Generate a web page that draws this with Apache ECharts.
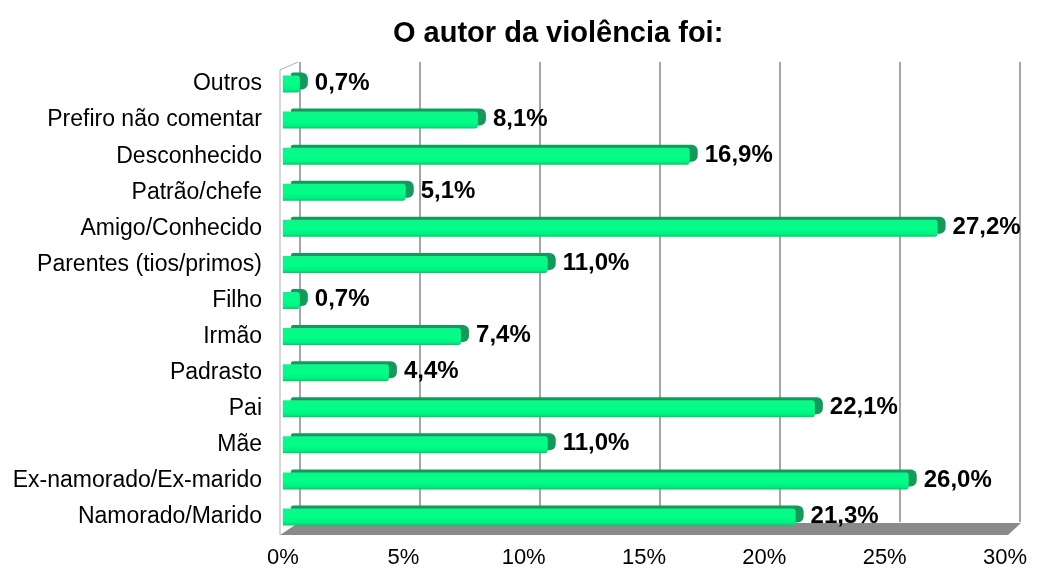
<!DOCTYPE html>
<html>
<head>
<meta charset="utf-8">
<script src="https://cdn.jsdelivr.net/npm/echarts@6/dist/echarts.min.js"></script>
<style>
  html, body { margin: 0; padding: 0; background: #fff; }
  #chart { width: 1038px; height: 574px; }
</style>
</head>
<body>
<div id="chart"></div>
<script>
// categorias (de baixo para cima)
var categories = [
  'Namorado/Marido', 'Ex-namorado/Ex-marido', 'Mãe', 'Pai', 'Padrasto', 'Irmão', 'Filho',
  'Parentes (tios/primos)', 'Amigo/Conhecido', 'Patrão/chefe', 'Desconhecido',
  'Prefiro não comentar', 'Outros'
]
var values = [21.3, 26.0, 11.0, 22.1, 4.4, 7.4, 0.7, 11.0, 27.2, 5.1, 16.9, 8.1, 0.7]
var xMin = 0
var xMax = 30
var xStep = 5

var chart = echarts.init(document.getElementById('chart'))

var font = 'Liberation Sans, Arial, sans-serif'

var barGradient = new echarts.graphic.LinearGradient(0, 0, 0, 1, [
  { offset: 0, color: '#0ff58a' },
  { offset: 0.5, color: '#00ff88' },
  { offset: 0.85, color: '#00f080' },
  { offset: 1, color: '#08c56a' }
])

chart.setOption({
  animation: false,
  title: {
    text: 'O autor da violência foi:',
    left: 388,
    top: 14,
    textStyle: { fontFamily: font, fontSize: 29, fontWeight: 'bold', color: '#000' }
  },
  grid: [
    // barras (frente)
    { left: 283, right: 33, top: 66, bottom: 39 },
    // parede do fundo (linhas de grade)
    { left: 300, right: 18, top: 62, bottom: 52 },
    // profundidade das barras (tampa 3D)
    { left: 291, right: 25, top: 63, bottom: 42 }
  ],
  graphic: [
    { // piso
      type: 'polygon',
      z: 0,
      shape: { points: [[280, 535], [1008, 535], [1021, 523], [298, 523]] },
      style: { fill: '#8a8a8a' }
    },
    { // borda da parede esquerda
      type: 'polyline',
      z: 0,
      shape: { points: [[280, 535], [280, 70], [298, 62]] },
      style: { stroke: '#b0b0b0', lineWidth: 1, fill: null }
    }
  ],
  xAxis: [
    {
      type: 'value',
      gridIndex: 0,
      min: xMin,
      max: xMax,
      interval: xStep,
      axisLine: { show: false },
      axisTick: { show: false },
      splitLine: { show: false },
      axisLabel: {
        formatter: '{value}%',
        margin: 12,
        fontFamily: font,
        fontSize: 22,
        color: '#000'
      }
    },
    {
      type: 'value',
      gridIndex: 1,
      min: xMin,
      max: xMax,
      interval: xStep,
      axisLine: { show: false },
      axisTick: { show: false },
      axisLabel: { show: false },
      splitLine: { show: true, lineStyle: { color: '#a6a6a6', width: 2 } }
    },
    {
      type: 'value',
      gridIndex: 2,
      min: xMin,
      max: xMax,
      show: false
    }
  ],
  yAxis: [
    {
      type: 'category',
      gridIndex: 0,
      data: categories,
      axisLine: { show: false },
      axisTick: { show: false },
      axisLabel: {
        margin: 21,
        fontFamily: font,
        fontSize: 23,
        color: '#000'
      }
    },
    { type: 'category', gridIndex: 1, data: categories, show: false },
    { type: 'category', gridIndex: 2, data: categories, show: false }
  ],
  series: [
    {
      // tampa / profundidade
      type: 'bar',
      xAxisIndex: 2,
      yAxisIndex: 2,
      data: values,
      barWidth: 17,
      z: 2,
      itemStyle: {
        borderRadius: [2, 6, 6, 2],
        color: '#139a5a'
      },
      label: {
        show: true,
        position: 'right',
        distance: 7,
        offset: [0, 2],
        formatter: function(p) {
          return p.value.toFixed(1).replace('.', ',') + '%'
        },
        fontFamily: font,
        fontSize: 24,
        fontWeight: 'bold',
        color: '#000'
      }
    },
    {
      type: 'bar',
      xAxisIndex: 0,
      yAxisIndex: 0,
      data: values,
      barWidth: 17,
      z: 3,
      itemStyle: {
        borderRadius: [0, 3, 3, 0],
        color: barGradient
      }
    }
  ]
})
</script>
</body>
</html>
